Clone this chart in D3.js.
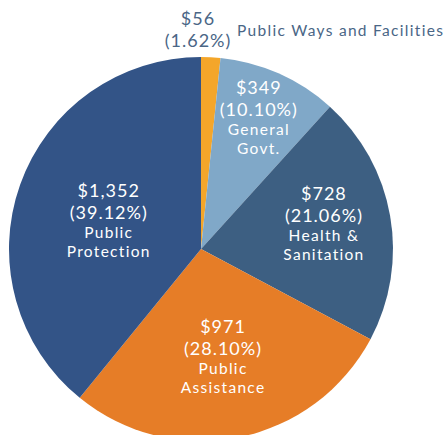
<!DOCTYPE html>
<html>
<head>
<meta charset="utf-8">
<script src="https://cdn.jsdelivr.net/npm/d3@7"></script>
<style>
  body { margin: 0; background: #fff; }
  svg text { font-family: Lato, sans-serif; }
</style>
</head>
<body>
<svg id="chart" width="445" height="435"></svg>
<script>
// budget categories, clockwise from 12 o'clock
var categories = ["Public Ways and Facilities", "General Govt.", "Health & Sanitation", "Public Assistance", "Public Protection"];
var nameLines = [["Public Ways and Facilities"], ["General", "Govt."], ["Health &", "Sanitation"], ["Public", "Assistance"], ["Public", "Protection"]];
var amounts = [56, 349, 728, 971, 1352];
var amountLabels = ["$56", "$349", "$728", "$971", "$1,352"];
var percentLabels = ["(1.62%)", "(10.10%)", "(21.06%)", "(28.10%)", "(39.12%)"];
var colors = ["#f4a62a", "#80a8c8", "#3d5f82", "#e67d27", "#335487"];

var data = categories.map(function(c, i){
  return {name: c, lines: nameLines[i], value: amounts[i], amt: amountLabels[i], pct: percentLabels[i], color: colors[i]};
});

const svg = d3.select("#chart"),
  cx = 201, cy = 249, radius = 192;

const g = svg.append("g").attr("transform", `translate(${cx},${cy})`);

const pie = d3.pie().value(d => d.value).sort(null);
const arc = d3.arc().innerRadius(0).outerRadius(radius);

const arcs = pie(data);

g.selectAll("path")
  .data(arcs)
  .enter().append("path")
  .attr("d", arc)
  .attr("fill", d => d.data.color);

// label distance from centre (share of radius) and a small vertical nudge
const labelR = {"General Govt.": 0.74, "Health & Sanitation": 0.65, "Public Assistance": 0.58, "Public Protection": 0.51};
const nudge = {"General Govt.": 0, "Health & Sanitation": -3, "Public Assistance": 0, "Public Protection": 6};

function bigText(sel){ return sel.style("font-size", "18px").style("letter-spacing", "1px"); }
function smallText(sel){ return sel.style("font-size", "15.5px").style("letter-spacing", "1.3px"); }

function addLine(parent, x, y, txt, fill, big, anchor){
  var t = parent.append("text").attr("x", x).attr("y", y)
    .attr("text-anchor", anchor || "middle").attr("fill", fill).text(txt);
  return big ? bigText(t) : smallText(t);
}

arcs.forEach(function(a){
  var d = a.data;
  if (d.name === "Public Ways and Facilities") {
    // small slice: label outside above the pie
    addLine(g, -3, -224, d.amt, "#4a6686", true);
    addLine(g, -3, -202, d.pct, "#4a6686", true);
    addLine(g, 36, -213, d.lines[0], "#4a6686", false, "start");
    return;
  }
  var c = d3.arc().innerRadius(0).outerRadius(radius * labelR[d.name] * 2).centroid(a);
  var top = c[1] - 31 + nudge[d.name];
  addLine(g, c[0], top + 6, d.amt, "#fff", true);
  addLine(g, c[0], top + 28, d.pct, "#fff", true);
  d.lines.forEach(function(l, i){
    addLine(g, c[0], top + 47 + i * 19, l, "#fff", false);
  });
});
</script>
</body>
</html>
